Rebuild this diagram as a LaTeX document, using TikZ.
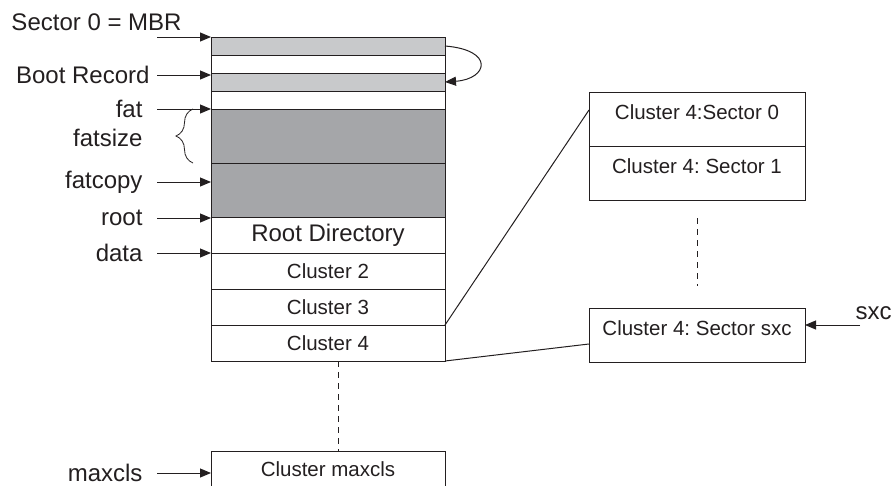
\documentclass[tikz,border=0pt]{standalone}
\usepackage{fontspec}
\setmainfont{Liberation Sans}
\usetikzlibrary{arrows.meta, positioning, decorations.pathreplacing}
\definecolor{inkgray}{HTML}{231F20}
\definecolor{bootgray}{HTML}{C8C9CB}
\definecolor{fatgray}{HTML}{A5A6A9}
\newcommand{\bigfont}{\fontsize{24}{27}\selectfont}
\newcommand{\smallfont}{\fontsize{20.5}{23}\selectfont}
\frenchspacing

\begin{document}
\begin{tikzpicture}[
    x=1pt, y=-1pt, color=inkgray, line width=1pt,
    row/.style={draw, outer sep=0pt, minimum width=234pt, font=\smallfont},
    sect/.style={draw, outer sep=0pt, minimum width=216pt, minimum height=54pt, inner ysep=3pt, text height=24pt, text depth=24pt, font=\smallfont},
    lbl/.style={anchor=east, inner sep=0pt, font=\bigfont},
    ptr/.style={-{Triangle[length=11pt, width=9pt]}},
    dots/.style={dash pattern=on 6pt off 5pt},
]
    \useasboundingbox (0,0) rectangle (892,485);

    % disk layout
    \node[row, minimum height=18pt, fill=bootgray] (mbr) at (328,46) {};
    \node[row, minimum height=18pt, below=0pt of mbr] (resv1) {};
    \node[row, minimum height=18pt, fill=bootgray, below=0pt of resv1] (boot) {};
    \node[row, minimum height=18pt, below=0pt of boot] (resv2) {};
    \node[row, minimum height=54pt, fill=fatgray, below=0pt of resv2] (fat) {};
    \node[row, minimum height=54pt, fill=fatgray, below=0pt of fat] (fatcopy) {};
    \node[row, minimum height=36pt, font=\bigfont, below=0pt of fatcopy] (rootdir) {Root Directory};
    \node[row, minimum height=36pt, below=0pt of rootdir] (cl2) {Cluster 2};
    \node[row, minimum height=36pt, below=0pt of cl2] (cl3) {Cluster 3};
    \node[row, minimum height=36pt, below=0pt of cl3] (cl4) {Cluster 4};
    \node[row, minimum height=36pt, below=90pt of cl4] (clmax) {Cluster maxcls};

    % sectors of cluster 4
    \node[sect] (sec0) at (697,119) {Cluster 4:Sector 0};
    \node[sect, below=0pt of sec0] (sec1) {Cluster 4: Sector 1};
    \node[sect, below=108pt of sec1] (secsxc) {Cluster 4: Sector sxc};

    % pointers
    \node[lbl, anchor=west] (lmbr) at (11,22) {Sector 0 = MBR};
    \node[lbl] (lboot) at (150,75) {Boot Record};
    \node[lbl] (lfat) at (143,109) {fat};
    \node[lbl] (lfatsize) at (143,138) {fatsize};
    \node[lbl] (lfatcopy) at (143,182) {fatcopy};
    \node[lbl] (lroot) at (143,218) {root};
    \node[lbl] (ldata) at (143,253) {data};
    \node[lbl] (lmaxcls) at (143,473) {maxcls};
    \node[lbl, anchor=west] (lsxc) at (855,313) {sxc};
    \coordinate (tail) at (157,0);
    \coordinate (sxctail) at (860,325);

    \draw[ptr] (mbr.north west -| tail) -- (mbr.north west);
    \foreach \l/\r in {lboot/boot, lfat/fat, lfatcopy/fatcopy, lroot/rootdir, ldata/cl2, lmaxcls/clmax}
        \draw[ptr] (\l.east -| tail) -- (\l.east -| \r.west);
    \draw[ptr] (sxctail) -- (sxctail -| secsxc.east);
    \draw[ptr] (mbr.east) .. controls +(50,4) and +(43,-3) .. (boot.east);
    \draw[line width=0.8pt, decorate, decoration={brace, amplitude=17pt}] ([xshift=-18pt]fat.south west) -- ([xshift=-18pt]fat.north west);

    \draw (cl3.south east) -- ([yshift=-18pt]sec0.north west);
    \draw (cl4.south east) -- ([yshift=18pt]secsxc.south west);
    \draw[dots] ([xshift=10pt]cl4.south) -- ([xshift=10pt]clmax.north);
    \draw[dots] ([yshift=-18pt]sec1.south) -- ([yshift=22pt]secsxc.north);
\end{tikzpicture}
\end{document}
